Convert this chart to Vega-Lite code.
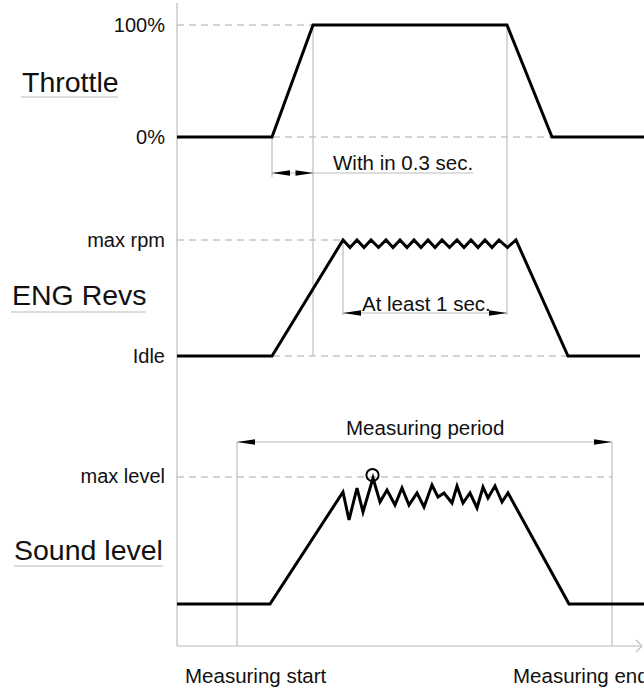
{
  "$schema": "https://vega.github.io/schema/vega-lite/v6.json",
  "width": 644,
  "height": 692,
  "padding": 0,
  "autosize": {"type": "none"},
  "background": "white",
  "config": {"view": {"stroke": null}, "text": {"font": "Liberation Sans"}},
  "datasets": {
    "curves": [
      {"id": "thr", "o": 0, "x": 177, "y": 137},
      {"id": "thr", "o": 1, "x": 272, "y": 137},
      {"id": "thr", "o": 2, "x": 313, "y": 25},
      {"id": "thr", "o": 3, "x": 507, "y": 25},
      {"id": "thr", "o": 4, "x": 552, "y": 137},
      {"id": "thr", "o": 5, "x": 644, "y": 137},
      {"id": "eng", "o": 0, "x": 177, "y": 356},
      {"id": "eng", "o": 1, "x": 272, "y": 356},
      {"id": "eng", "o": 2, "x": 343, "y": 240},
      {"id": "eng", "o": 3, "x": 350, "y": 247.5},
      {"id": "eng", "o": 4, "x": 357, "y": 240},
      {"id": "eng", "o": 5, "x": 364, "y": 247.5},
      {"id": "eng", "o": 6, "x": 371, "y": 240},
      {"id": "eng", "o": 7, "x": 378.5, "y": 247.5},
      {"id": "eng", "o": 8, "x": 386, "y": 240},
      {"id": "eng", "o": 9, "x": 393, "y": 247.5},
      {"id": "eng", "o": 10, "x": 400, "y": 240},
      {"id": "eng", "o": 11, "x": 407, "y": 247.5},
      {"id": "eng", "o": 12, "x": 414, "y": 240},
      {"id": "eng", "o": 13, "x": 421, "y": 247.5},
      {"id": "eng", "o": 14, "x": 428, "y": 240},
      {"id": "eng", "o": 15, "x": 435, "y": 247.5},
      {"id": "eng", "o": 16, "x": 442, "y": 240},
      {"id": "eng", "o": 17, "x": 449.5, "y": 247.5},
      {"id": "eng", "o": 18, "x": 457, "y": 240},
      {"id": "eng", "o": 19, "x": 464, "y": 247.5},
      {"id": "eng", "o": 20, "x": 471, "y": 240},
      {"id": "eng", "o": 21, "x": 478, "y": 247.5},
      {"id": "eng", "o": 22, "x": 485, "y": 240},
      {"id": "eng", "o": 23, "x": 492, "y": 247.5},
      {"id": "eng", "o": 24, "x": 499, "y": 240},
      {"id": "eng", "o": 25, "x": 507.5, "y": 247.5},
      {"id": "eng", "o": 26, "x": 516, "y": 240},
      {"id": "eng", "o": 27, "x": 568, "y": 356},
      {"id": "eng", "o": 28, "x": 640, "y": 356},
      {"id": "snd", "o": 0, "x": 177, "y": 604},
      {"id": "snd", "o": 1, "x": 270, "y": 604},
      {"id": "snd", "o": 2, "x": 343, "y": 492},
      {"id": "snd", "o": 3, "x": 349, "y": 520},
      {"id": "snd", "o": 4, "x": 357, "y": 488},
      {"id": "snd", "o": 5, "x": 363, "y": 512},
      {"id": "snd", "o": 6, "x": 373, "y": 478},
      {"id": "snd", "o": 7, "x": 380, "y": 502},
      {"id": "snd", "o": 8, "x": 387, "y": 490},
      {"id": "snd", "o": 9, "x": 395, "y": 505},
      {"id": "snd", "o": 10, "x": 402, "y": 488},
      {"id": "snd", "o": 11, "x": 409, "y": 505},
      {"id": "snd", "o": 12, "x": 417, "y": 493},
      {"id": "snd", "o": 13, "x": 424, "y": 507},
      {"id": "snd", "o": 14, "x": 432, "y": 485},
      {"id": "snd", "o": 15, "x": 438, "y": 497},
      {"id": "snd", "o": 16, "x": 444, "y": 493},
      {"id": "snd", "o": 17, "x": 452, "y": 503},
      {"id": "snd", "o": 18, "x": 457, "y": 486},
      {"id": "snd", "o": 19, "x": 463, "y": 503},
      {"id": "snd", "o": 20, "x": 470, "y": 493},
      {"id": "snd", "o": 21, "x": 477, "y": 508},
      {"id": "snd", "o": 22, "x": 483, "y": 487},
      {"id": "snd", "o": 23, "x": 488, "y": 498},
      {"id": "snd", "o": 24, "x": 495, "y": 486},
      {"id": "snd", "o": 25, "x": 502, "y": 502},
      {"id": "snd", "o": 26, "x": 508, "y": 493},
      {"id": "snd", "o": 27, "x": 569, "y": 604},
      {"id": "snd", "o": 28, "x": 644, "y": 604}
    ],
    "dashed": [
      {"x": 177, "x2": 313, "y": 25},
      {"x": 177, "x2": 600, "y": 137},
      {"x": 177, "x2": 343, "y": 240},
      {"x": 177, "x2": 600, "y": 356},
      {"x": 177, "x2": 612, "y": 477}
    ],
    "thin": [
      {"x": 177, "x2": 177, "y": 3, "y2": 646},
      {"x": 177, "x2": 640, "y": 646, "y2": 646},
      {"x": 636, "x2": 642, "y": 640, "y2": 646},
      {"x": 636, "x2": 642, "y": 652, "y2": 646},
      {"x": 272, "x2": 272, "y": 137, "y2": 177},
      {"x": 313, "x2": 313, "y": 25, "y2": 356},
      {"x": 507, "x2": 507, "y": 25, "y2": 315},
      {"x": 343, "x2": 343, "y": 240, "y2": 315},
      {"x": 237, "x2": 237, "y": 442, "y2": 646},
      {"x": 612, "x2": 612, "y": 442, "y2": 646},
      {"x": 272, "x2": 473, "y": 173, "y2": 173},
      {"x": 343, "x2": 507, "y": 313, "y2": 313},
      {"x": 237, "x2": 612, "y": 442, "y2": 442},
      {"x": 21, "x2": 118, "y": 97, "y2": 97},
      {"x": 11, "x2": 146, "y": 312, "y2": 312},
      {"x": 14, "x2": 163, "y": 566, "y2": 566}
    ],
    "arrows": [
      {"x": 281, "y": 173, "dir": "L"},
      {"x": 304.5, "y": 173, "dir": "R"},
      {"x": 352, "y": 313, "dir": "L"},
      {"x": 498, "y": 313, "dir": "R"},
      {"x": 246, "y": 442, "dir": "L"},
      {"x": 603, "y": 442, "dir": "R"}
    ],
    "ticks": [
      {"label": "100%", "x": 165, "y": 32},
      {"label": "0%", "x": 165, "y": 144},
      {"label": "max rpm", "x": 165, "y": 247},
      {"label": "Idle", "x": 165, "y": 363},
      {"label": "max level", "x": 165, "y": 483}
    ],
    "titles": [
      {"label": "Throttle", "x": 22, "y": 92},
      {"label": "ENG Revs", "x": 12, "y": 305},
      {"label": "Sound level", "x": 14, "y": 560}
    ],
    "notes": [
      {"label": "With in 0.3 sec.", "x": 333, "y": 170},
      {"label": "At least 1 sec.", "x": 362, "y": 311},
      {"label": "Measuring period", "x": 346, "y": 435},
      {"label": "Measuring start", "x": 185, "y": 683},
      {"label": "Measuring end", "x": 513, "y": 683}
    ],
    "marker": [{"x": 372.5, "y": 475}]
  },
  "encoding": {
    "x": {"field": "x", "type": "quantitative", "scale": {"domain": [0, 644], "nice": false, "zero": false}, "axis": null},
    "y": {"field": "y", "type": "quantitative", "scale": {"domain": [0, 692], "nice": false, "zero": false, "reverse": true}, "axis": null}
  },
  "layer": [
    {
      "data": {"name": "dashed"},
      "mark": {"type": "rule", "color": "#a8a8a8", "strokeWidth": 1, "strokeDash": [7, 5]},
      "encoding": {"x2": {"field": "x2"}}
    },
    {
      "data": {"name": "thin"},
      "mark": {"type": "rule", "color": "#bcbcbc", "strokeWidth": 1.2},
      "encoding": {"x2": {"field": "x2"}, "y2": {"field": "y2"}}
    },
    {
      "data": {"name": "curves"},
      "mark": {"type": "line", "color": "#000000", "strokeWidth": 3, "strokeJoin": "miter", "strokeCap": "butt"},
      "encoding": {"detail": {"field": "id", "type": "nominal"}, "order": {"field": "o", "type": "quantitative"}}
    },
    {
      "data": {"name": "arrows"},
      "mark": {"type": "point", "filled": true, "color": "#000000", "size": 324, "opacity": 1},
      "encoding": {
        "shape": {"field": "dir", "type": "nominal", "scale": {"domain": ["L", "R"], "range": ["M-1,0L1,-0.3L1,0.3Z", "M1,0L-1,-0.3L-1,0.3Z"]}, "legend": null}
      }
    },
    {
      "data": {"name": "marker"},
      "mark": {"type": "point", "filled": false, "color": "#000000", "size": 150, "strokeWidth": 2, "opacity": 1}
    },
    {
      "data": {"name": "ticks"},
      "mark": {"type": "text", "align": "right", "baseline": "alphabetic", "fontSize": 20, "color": "#111111"},
      "encoding": {"text": {"field": "label"}}
    },
    {
      "data": {"name": "titles"},
      "mark": {"type": "text", "align": "left", "baseline": "alphabetic", "fontSize": 28.5, "color": "#111111"},
      "encoding": {"text": {"field": "label"}}
    },
    {
      "data": {"name": "notes"},
      "mark": {"type": "text", "align": "left", "baseline": "alphabetic", "fontSize": 20.5, "color": "#111111"},
      "encoding": {"text": {"field": "label"}}
    }
  ]
}
